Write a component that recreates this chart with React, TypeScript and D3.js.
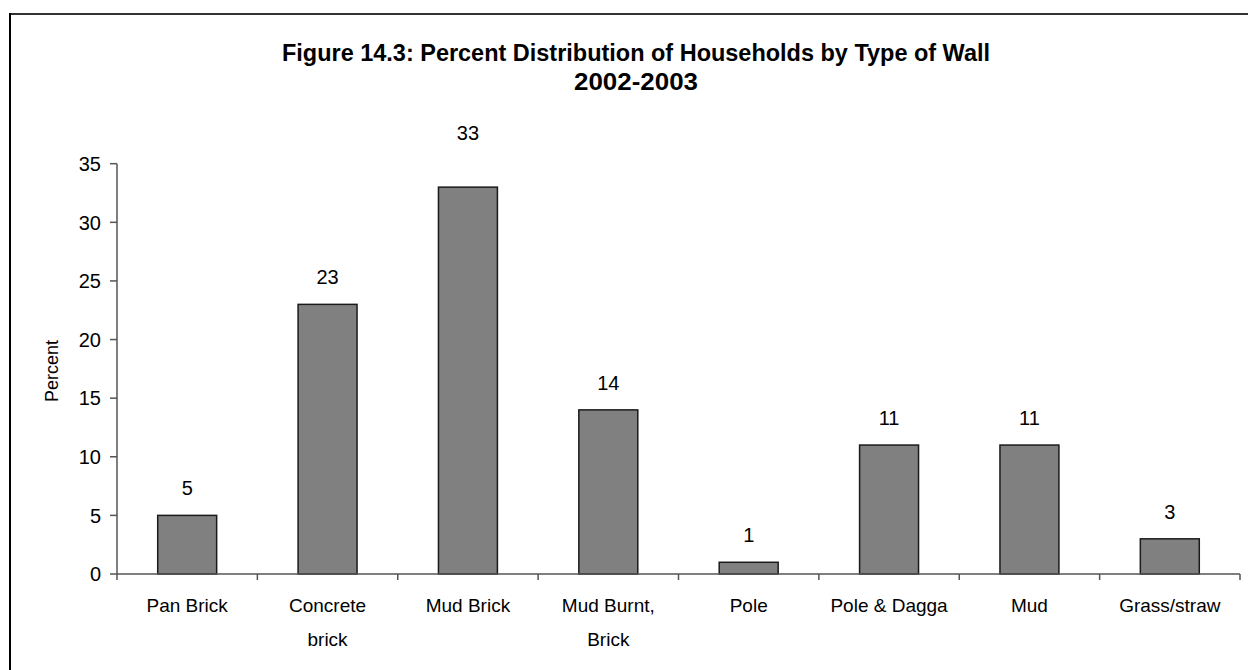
import React from "react";
import * as d3 from "d3";

const categories: string[][] = [
  ["Pan Brick"],
  ["Concrete", "brick"],
  ["Mud Brick"],
  ["Mud Burnt,", "Brick"],
  ["Pole"],
  ["Pole & Dagga"],
  ["Mud"],
  ["Grass/straw"],
];
const values: number[] = [5, 23, 33, 14, 1, 11, 11, 3];
const yTicks: number[] = [0, 5, 10, 15, 20, 25, 30, 35];
const titleLines: string[] = [
  "Figure 14.3: Percent Distribution of Households by Type of Wall",
  "2002-2003",
];
const yAxisTitle = "Percent";

const W = 1248;
const H = 670;
const left = 117;
const right = 1240;
const top = 163.7;
const bottom = 574;
const font = "'Liberation Sans', Arial, sans-serif";

export default function App() {
  const keys = categories.map((c) => c.join(" "));
  const x = d3.scaleBand<string>().domain(keys).range([left, right]).paddingInner(0).paddingOuter(0);
  const y = d3.scaleLinear().domain([0, 35]).range([bottom, top]);
  const bw = x.bandwidth();
  const barW = bw * 0.42;
  const boundaries = d3.range(keys.length + 1).map((i) => left + i * bw);

  return (
    <svg width={W} height={H} style={{ position: "absolute", left: 0, top: 0, background: "#fff" }}>
      <rect x={0} y={0} width={W} height={H} fill="#fff" />
      {/* frame */}
      <line x1={9} x2={W} y1={14} y2={14} stroke="#333" strokeWidth={2} />
      <line x1={10} x2={10} y1={13} y2={H} stroke="#000" strokeWidth={2} />

      {/* title */}
      <text x={636} y={61} textAnchor="middle" fontFamily={font} fontWeight="bold" fontSize={23}
        textLength={708} lengthAdjust="spacingAndGlyphs">{titleLines[0]}</text>
      <text x={636} y={90} textAnchor="middle" fontFamily={font} fontWeight="bold" fontSize={23}
        textLength={124} lengthAdjust="spacingAndGlyphs">{titleLines[1]}</text>

      {/* y axis */}
      <line x1={left} x2={left} y1={y(35)} y2={bottom} stroke="#555" strokeWidth={1.5} />
      {yTicks.map((t) => (
        <g key={t}>
          <line x1={110} x2={left} y1={y(t)} y2={y(t)} stroke="#555" strokeWidth={1.5} />
          <text x={101} y={y(t)} dy="0.36em" textAnchor="end" fontFamily={font} fontSize={20} fill="#000">{t}</text>
        </g>
      ))}
      <text transform={`translate(58,371) rotate(-90)`} textAnchor="middle" fontFamily={font} fontSize={18}>{yAxisTitle}</text>

      {/* bars */}
      {keys.map((k, i) => {
        const cx = (x(k) as number) + bw / 2;
        const v = values[i];
        const labelY = v > 30 ? y(v) - 47 : y(v) - 20;
        return (
          <g key={k}>
            <rect x={cx - barW / 2} y={y(v)} width={barW} height={bottom - y(v)}
              fill="#808080" stroke="#1a1a1a" strokeWidth={1.5} />
            <text x={cx} y={labelY} textAnchor="middle" fontFamily={font} fontSize={20}>{v}</text>
          </g>
        );
      })}

      {/* x axis */}
      <line x1={left} x2={right} y1={bottom} y2={bottom} stroke="#555" strokeWidth={1.5} />
      {boundaries.map((b, i) => (
        <line key={i} x1={b} x2={b} y1={bottom} y2={580} stroke="#555" strokeWidth={1.5} />
      ))}
      {keys.map((k, i) => {
        const cx = (x(k) as number) + bw / 2;
        return (
          <text key={k} x={cx} y={612} textAnchor="middle" fontFamily={font} fontSize={19}>
            {categories[i].map((line, j) => (
              <tspan key={j} x={cx} y={612 + j * 34}>{line}</tspan>
            ))}
          </text>
        );
      })}
    </svg>
  );
}
